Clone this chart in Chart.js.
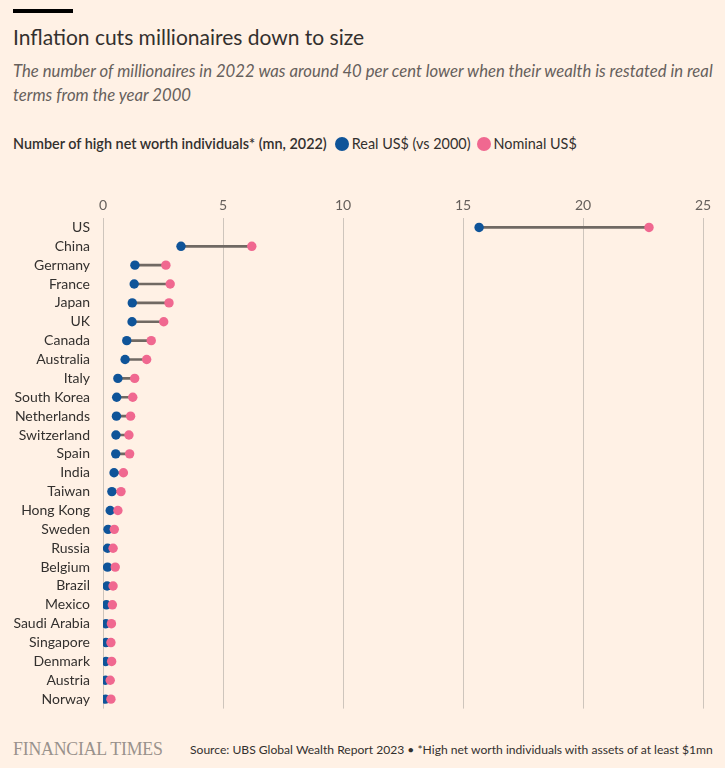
<!DOCTYPE html>
<html>
<head>
<meta charset="utf-8">
<script src="https://cdn.jsdelivr.net/npm/chart.js@4"></script>
<style>
  body { margin:0; background:#fff1e5; width:725px; height:768px; overflow:hidden; font-family:Lato, "Noto Sans", sans-serif; color:#33302e; position:relative; }
  .bar { position:absolute; left:13px; top:9px; width:60px; height:4px; background:#000; }
  h1 { position:absolute; left:13px; top:24px; margin:0; font-weight:400; font-size:21px; }
  .sub { position:absolute; left:13px; top:59px; margin:0; font-style:italic; font-size:16.7px; line-height:24px; color:#66605c; width:712px; white-space:nowrap; }
  .leg { position:absolute; left:13px; top:135px; font-size:14.4px; display:flex; align-items:center; white-space:nowrap; }
  .leg b { font-weight:600; margin-right:6px; }
  .dot { display:inline-block; width:14px; height:14px; border-radius:50%; margin-right:3px; margin-left:2px; }
  #wrap { position:absolute; left:0; top:190px; width:725px; height:532px; }
  .ft { position:absolute; left:13px; top:739px; font-family:"Liberation Serif", serif; font-size:17.8px; color:#99928c; letter-spacing:-0.2px; }
  .src { position:absolute; left:190px; top:742px; font-size:12.1px; color:#33302e; white-space:nowrap; }
</style>
</head>
<body>
<div class="bar"></div>
<h1>Inflation cuts millionaires down to size</h1>
<p class="sub">The number of millionaires in 2022 was around 40 per cent lower when their wealth is restated in real<br>terms from the year 2000</p>
<div class="leg"><b>Number of high net worth individuals* (mn, 2022)</b><span class="dot" style="background:#0f5499"></span>Real US$ (vs 2000)<span class="dot" style="background:#f06890;margin-left:6px"></span>Nominal US$</div>
<div id="wrap"><canvas id="c"></canvas></div>
<div class="ft">FINANCIAL TIMES</div>
<div class="src">Source: UBS Global Wealth Report 2023 &bull; *High net worth individuals with assets of at least $1mn</div>
<script>
var countries = ['US','China','Germany','France','Japan','UK','Canada','Australia','Italy','South Korea','Netherlands','Switzerland','Spain','India','Taiwan','Hong Kong','Sweden','Russia','Belgium','Brazil','Mexico','Saudi Arabia','Singapore','Denmark','Austria','Norway'];
var realUsd = [15.67,3.25,1.33,1.30,1.22,1.21,0.99,0.92,0.62,0.57,0.56,0.54,0.53,0.46,0.37,0.30,0.21,0.19,0.19,0.17,0.14,0.12,0.12,0.12,0.10,0.10];
var nominalUsd = [22.75,6.2,2.62,2.80,2.75,2.53,2.01,1.82,1.32,1.24,1.15,1.08,1.11,0.85,0.75,0.62,0.47,0.42,0.51,0.42,0.39,0.35,0.33,0.36,0.30,0.33];
var xTicks = [0,5,10,15,20,25];

var spans = countries.map(function(c, i){ return [realUsd[i], nominalUsd[i]]; });

new Chart(document.getElementById('c'), {
  type: 'bar',
  data: {
    labels: countries,
    datasets: [
      { type:'line', label:'Nominal US$', data:nominalUsd, showLine:false, pointRadius:4.7, pointHoverRadius:4.7, pointBackgroundColor:'#f06890', pointBorderWidth:0, order:1 },
      { type:'line', label:'Real US$ (vs 2000)', data:realUsd, showLine:false, pointRadius:4.7, pointHoverRadius:4.7, pointBackgroundColor:'#0f5499', pointBorderWidth:0, order:2 },
      { label:'range', data:spans, backgroundColor:'#706963', barThickness:2, order:3 }
    ]
  },
  options: {
    indexAxis: 'y',
    maintainAspectRatio: false,
    animation: false,
    layout: { padding: { left:0, right:22, top:0, bottom:7 } },
    plugins: { legend:{ display:false }, tooltip:{ enabled:false } },
    scales: {
      x: {
        position:'top', min:0, max:25,
        afterBuildTicks: function(s){ s.ticks = xTicks.map(function(v){ return {value:v}; }); },
        afterFit: function(s){ s.height = 28; },
        grid: { color:'#cec5bc', lineWidth:1, drawTicks:false },
        border: { display:false },
        ticks: { color:'#66605c', font:{ family:'Lato', size:14 }, padding:4 }
      },
      y: {
        afterFit: function(s){ s.width = 103; },
        grid: { display:false },
        border: { display:false },
        ticks: { color:'#33302e', font:{ family:'Lato', size:14 }, padding:5, autoSkip:false }
      }
    }
  }
});
</script>
</body>
</html>
